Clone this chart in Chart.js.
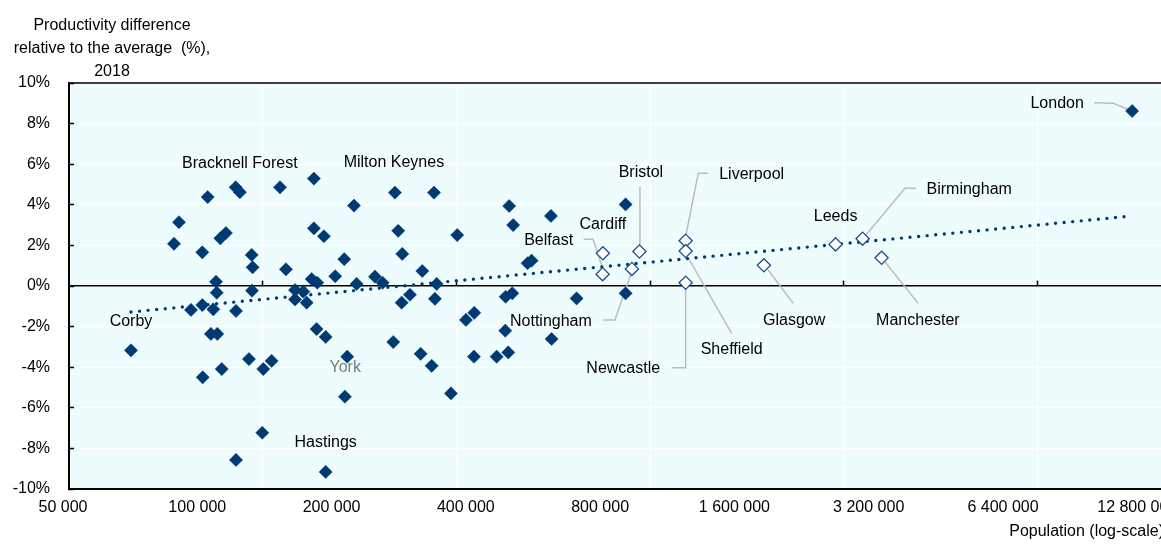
<!DOCTYPE html>
<html>
<head>
<meta charset="utf-8">
<script src="https://cdn.jsdelivr.net/npm/chart.js@4.4.1/dist/chart.umd.min.js"></script>
<style>
  html, body { margin: 0; padding: 0; overflow: hidden; background: #ffffff; }
  #wrap { position: relative; width: 1200px; height: 547px; }
</style>
</head>
<body>
<div id="wrap"><canvas id="chart" width="1200" height="547"></canvas></div>
<script>
// Population of each area (x) and productivity gap to the average in % (y)
const otherPop = [
  85970, 88200, 102300, 99500, 109200, 112400, 118200, 128400, 129000, 148600,
  153200, 177000, 177000, 186400, 217700, 207000, 197600, 220700, 273500, 279300,
  309700, 329000, 333600, 370900, 242600, 252400, 175000, 180100, 106800, 107200,
  99500, 93850, 105300, 118400, 128600, 160600, 167600, 160600, 170500, 278400,
  290600, 330600, 104000, 107500, 179500, 188100, 266600, 126600, 136300, 142300,
  99700, 110000, 207700, 307100, 325100, 359100, 135600, 118400, 485000, 495000,
  601600, 884600, 533300, 544400, 476200, 492800, 686900, 884600, 388000, 405000,
  475300, 603700, 404400, 454600, 482700
];
const otherVal = [
  2.08, 3.14, 4.38, 1.66, 2.35, 2.61, 4.86, 1.53, 0.92, 4.86,
  0.82, 5.29, 2.84, 2.45, 3.96, 1.32, 0.48, 0.10, 2.72, 1.58,
  0.74, 4.60, 0.10, 2.51, 0.46, 0.16, 0.34, 0.16, 0.21, -0.33,
  -0.94, -1.18, -1.15, -1.23, -0.23, -0.20, -0.28, -0.66, -0.82, -0.82,
  -0.43, -0.63, -2.36, -2.36, -2.12, -2.51, -2.76, -3.60, -4.09, -3.69,
  -4.50, -4.09, -5.45, -3.34, -3.93, -5.29, -7.23, -8.57, 3.94, 3.00,
  3.45, 4.02, 1.12, 1.25, -0.53, -0.36, -0.61, -0.36, -1.67, -1.32,
  -2.20, -2.61, -3.48, -3.48, -3.27
];

// Named areas drawn with filled markers
const namedPlaces = ['Corby', 'Bracknell Forest', 'Milton Keynes', 'York', 'Hastings', 'London'];
const namedPop = [68860, 120800, 268900, 210200, 188100, 12085000];
const namedVal = [-3.17, 4.62, 4.60, -3.48, -9.16, 8.62];

// Large cities drawn with hollow markers
const cityNames = ['Cardiff', 'Belfast', 'Bristol', 'Nottingham', 'Liverpool', 'Sheffield',
                   'Newcastle', 'Glasgow', 'Leeds', 'Birmingham', 'Manchester'];
const cityPop = [786700, 785600, 950000, 913800, 1206000, 1206000, 1206000, 1806000, 2615000, 3006000, 3316000];
const cityVal = [1.61, 0.58, 1.70, 0.84, 2.23, 1.72, 0.16, 1.02, 2.05, 2.33, 1.39];

// Fitted trend (linear in log population), from the smallest to the largest area
const trendPop = [68860, 12085000];
const trendVal = [-1.28, 3.45];

// Axis ticks
const xTickValues = [50000, 100000, 200000, 400000, 800000, 1600000, 3200000, 6400000, 12800000];
const xTickLabels = ['50 000', '100 000', '200 000', '400 000', '800 000', '1 600 000', '3 200 000', '6 400 000', '12 800 000'];
const yTickValues = [-10, -8, -6, -4, -2, 0, 2, 4, 6, 8, 10];
const yTickLabels = ['-10%', '-8%', '-6%', '-4%', '-2%', '0%', '2%', '4%', '6%', '8%', '10%'];

const NAVY = '#003A73';
const HOLLOW_EDGE = '#1C4F8E';
const PLOT_BG = '#EFFCFD';
const LEADER = '#BDBDBD';
const FONT = "'Liberation Sans', Arial, sans-serif";

// Label placement, as pixel offsets from the marker centre, plus optional leader lines
const labelLayout = {
  'Corby':            { dx: 0,    dy: -29 },
  'Bracknell Forest': { dx: 0,    dy: -29 },
  'Milton Keynes':    { dx: -1,   dy: -30 },
  'York':             { dx: -2,   dy: 11, color: '#7A7A7A' },
  'Hastings':         { dx: 0,    dy: -29 },
  'London':           { dx: -75,  dy: -7,  leader: [[-38, -8.3], [-19, -7.7], [-4, -1.7]] },
  'Cardiff':          { dx: 0,    dy: -29 },
  'Belfast':          { dx: -54,  dy: -34, leader: [[-19, -35], [-9.5, -35], [0, -6]] },
  'Bristol':          { dx: 1.5,  dy: -79, leader: [[0.5, -65], [0.5, -6]] },
  'Nottingham':       { dx: -81,  dy: 52.7, leader: [[-28.7, 51], [-17, 51], [-0.3, 3]] },
  'Liverpool':        { dx: 66,   dy: -66, leader: [[22.6, -67.4], [12.6, -67.4], [0, -4]] },
  'Sheffield':        { dx: 46,   dy: 99,  leader: [[1, 4], [46, 82.3]] },
  'Newcastle':        { dx: -62.4, dy: 85.6, leader: [[-14, 85], [0, 85], [0, 4]] },
  'Glasgow':          { dx: 30.3, dy: 55.4, leader: [[4.3, 4.7], [29.3, 38]] },
  'Leeds':            { dx: 0,    dy: -27.6 },
  'Birmingham':       { dx: 106.6, dy: -48.7, leader: [[53.3, -50.4], [42.3, -50.4], [2, -2]] },
  'Manchester':       { dx: 36.3, dy: 63.3, leader: [[3.3, 4], [36.6, 45.6]] }
};

const toPoints = (xs, ys) => xs.map((x, i) => ({ x: x, y: ys[i] }));

// Plot background, frame, leader lines, place labels and axis titles
const decorations = {
  id: 'decorations',
  beforeDraw(chart) {
    const a = chart.chartArea, ctx = chart.ctx;
    ctx.save();
    ctx.fillStyle = PLOT_BG;
    ctx.fillRect(a.left, a.top, a.right - a.left, a.bottom - a.top);
    ctx.restore();
  },
  beforeDatasetsDraw(chart) {
    const a = chart.chartArea, ctx = chart.ctx;
    ctx.save();
    ctx.strokeStyle = '#000';
    ctx.lineWidth = 1.5;
    ctx.beginPath();
    ctx.moveTo(a.left, a.top);
    ctx.lineTo(a.right, a.top);
    ctx.lineTo(a.right, a.bottom);
    ctx.stroke();
    ctx.strokeStyle = LEADER;
    ctx.lineWidth = 1.5;
    eachLabel(chart, (name, px, py, cfg) => {
      if (!cfg.leader) return;
      ctx.beginPath();
      cfg.leader.forEach((p, k) => {
        if (k === 0) ctx.moveTo(px + p[0], py + p[1]);
        else ctx.lineTo(px + p[0], py + p[1]);
      });
      ctx.stroke();
    });
    ctx.restore();
  },
  afterDatasetsDraw(chart) {
    const ctx = chart.ctx;
    ctx.save();
    ctx.font = '16px ' + FONT;
    ctx.textAlign = 'center';
    ctx.textBaseline = 'middle';
    eachLabel(chart, (name, px, py, cfg) => {
      ctx.fillStyle = cfg.color || '#000';
      ctx.fillText(name, px + cfg.dx, py + cfg.dy);
    });
    ctx.restore();
  },
  afterDraw(chart) {
    const a = chart.chartArea, ctx = chart.ctx;
    ctx.save();
    ctx.font = '16px ' + FONT;
    ctx.fillStyle = '#000';
    ctx.textAlign = 'center';
    ctx.textBaseline = 'middle';
    const lines = ['Productivity difference', 'relative to the average  (%),', '2018'];
    lines.forEach((t, i) => ctx.fillText(t, 112, 26 + i * 23));
    ctx.textAlign = 'right';
    ctx.fillText('Population (log-scale)', a.right - 10, 532);
    ctx.restore();
  }
};

function eachLabel(chart, fn) {
  [[1, namedPlaces], [2, cityNames]].forEach(([di, names]) => {
    const meta = chart.getDatasetMeta(di);
    names.forEach((name, i) => {
      const el = meta.data[i];
      const cfg = labelLayout[name];
      if (el && cfg) fn(name, el.x, el.y, cfg);
    });
  });
}

Chart.defaults.font.family = FONT;
Chart.defaults.font.size = 16;
Chart.defaults.color = '#000';

new Chart(document.getElementById('chart'), {
  type: 'scatter',
  data: {
    datasets: [
      {
        label: 'Other areas',
        data: toPoints(otherPop, otherVal),
        pointStyle: 'rectRot',
        pointRadius: 6.6,
        pointBackgroundColor: NAVY,
        pointBorderColor: NAVY,
        pointBorderWidth: 0.5,
        order: 2
      },
      {
        label: 'Named areas',
        data: toPoints(namedPop, namedVal),
        pointStyle: 'rectRot',
        pointRadius: 6.6,
        pointBackgroundColor: NAVY,
        pointBorderColor: NAVY,
        pointBorderWidth: 0.5,
        order: 2
      },
      {
        label: 'Large cities',
        data: toPoints(cityPop, cityVal),
        pointStyle: 'rectRot',
        pointRadius: 6.6,
        pointBackgroundColor: '#ffffff',
        pointBorderColor: HOLLOW_EDGE,
        pointBorderWidth: 1.3,
        order: 1
      },
      {
        type: 'line',
        label: 'Trend',
        data: toPoints(trendPop, trendVal),
        borderColor: NAVY,
        borderWidth: 3.4,
        borderDash: [0, 8.6],
        borderCapStyle: 'round',
        pointRadius: 0,
        fill: false,
        order: 3
      }
    ]
  },
  options: {
    responsive: false,
    animation: false,
    devicePixelRatio: 1,
    layout: { padding: { top: 83, left: 0, right: 26, bottom: 0 } },
    plugins: { legend: { display: false }, tooltip: { enabled: false } },
    scales: {
      x: {
        type: 'logarithmic',
        position: 'bottom',
        min: 50000,
        max: 15000000,
        afterBuildTicks(scale) { scale.ticks = xTickValues.map(v => ({ value: v })); },
        afterFit(scale) { scale.height = 58; },
        ticks: {
          autoSkip: false,
          maxRotation: 0,
          padding: 9,
          labelOffset: -6,
          color: '#000',
          font: { size: 16 },
          callback: (v, i) => xTickLabels[i]
        },
        grid: { drawOnChartArea: false, drawTicks: false },
        border: { display: true, color: '#000', width: 2 }
      },
      // Natural-log gridlines with the zero line and its tick marks
      x2: {
        type: 'logarithmic',
        axis: 'x',
        position: { y: 0 },
        min: 50000,
        max: 15000000,
        afterBuildTicks(scale) {
          const t = [];
          for (let v = 50000 * Math.E; v < 15000000; v *= Math.E) t.push({ value: v });
          scale.ticks = t;
        },
        ticks: { display: false },
        grid: {
          drawOnChartArea: true,
          color: '#ffffff',
          lineWidth: 1,
          drawTicks: true,
          tickLength: -6,
          tickColor: '#000',
          tickWidth: 1.5
        },
        border: { display: true, color: '#000', width: 1.6 }
      },
      y: {
        min: -10,
        max: 10,
        afterBuildTicks(scale) { scale.ticks = yTickValues.map(v => ({ value: v })); },
        afterFit(scale) { scale.width = 69; },
        ticks: {
          padding: 24,
          color: '#000',
          font: { size: 16 },
          callback: (v, i) => yTickLabels[i]
        },
        grid: {
          color: '#ffffff',
          lineWidth: 1,
          drawTicks: true,
          tickLength: -5,
          tickColor: '#000',
          tickWidth: 1.5
        },
        border: { display: true, color: '#000', width: 2 }
      }
    }
  },
  plugins: [decorations]
});
</script>
</body>
</html>
